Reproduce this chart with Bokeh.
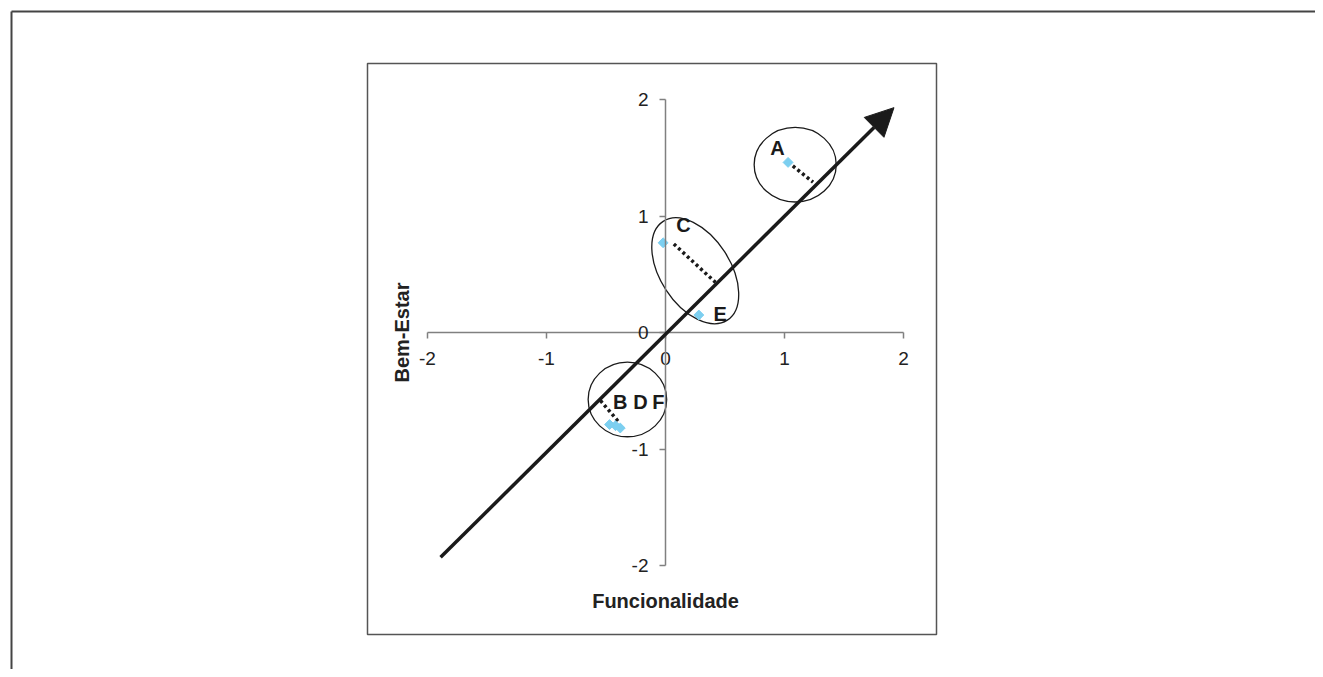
import math
from bokeh.plotting import figure
from bokeh.models import (Range1d, LinearAxis, FixedTicker, Arrow, NormalHead,
                          BoxAnnotation, ColumnDataSource, PrintfTickFormatter)
from bokeh.core.properties import value
from bokeh.embed import file_html
from bokeh.resources import INLINE

# ---------------- data ----------------
ticks = [-2, -1, 0, 1, 2]
names = ["A", "B", "C", "D", "E", "F"]
funcionalidade = [1.03, -0.47, -0.02, -0.42, 0.28, -0.38]
bem_estar = [1.46, -0.79, 0.77, -0.80, 0.15, -0.82]

# text labels of the groups
label_text = ["A", "C", "E", "B", "D", "F"]
label_x = [0.94, 0.15, 0.46, -0.38, -0.21, -0.06]
label_y = [1.58, 0.92, 0.16, -0.60, -0.60, -0.60]

# trend arrow (start, end)
trend_x = [-1.89, 1.92]
trend_y = [-1.93, 1.93]

# dotted distances to the trend line
resid_x0 = [1.07, 0.07, -0.40]
resid_y0 = [1.43, 0.76, -0.76]
resid_x1 = [1.24, 0.42, -0.55]
resid_y1 = [1.29, 0.43, -0.58]

# group ellipses
ell_x = [1.09, 0.25, -0.32]
ell_y = [1.44, 0.53, -0.575]
ell_w = [0.69, 0.99, 0.66]
ell_h = [0.64, 0.60, 0.64]
ell_angle_deg = [0, -57, 0]

# ---------------- layout (pixels) ----------------
W, H = 1315, 669
PAGE = 0
X0, UX = 665, 119.0     # page px of x=0, px per unit
Y0, UY = 332, 116.5     # page px of y=0, px per unit

def dx(px):
    return (px - X0) / UX

def dy(py):
    return (Y0 - py) / UY

p = figure(width=W, height=H, output_backend="svg", toolbar_location=None,
           x_range=Range1d(dx(PAGE), dx(PAGE + W)),
           y_range=Range1d(dy(PAGE + H), dy(PAGE)),
           x_axis_type=None, y_axis_type=None,
           min_border=0, min_border_left=0, min_border_right=0,
           min_border_top=0, min_border_bottom=0)
p.outline_line_color = None
p.grid.visible = False
p.background_fill_color = "white"
p.border_fill_color = "white"

FONT = "Liberation Sans"

# outer page frame (top and left edges)
p.segment(x0=[dx(11), dx(11)], y0=[dy(11), dy(11)],
          x1=[dx(PAGE + W + 5), dx(11)], y1=[dy(11), dy(PAGE + H + 5)],
          line_color="#444444", line_width=2)

# inner chart box
p.add_layout(BoxAnnotation(left=dx(367), right=dx(936), top=dy(63), bottom=dy(634),
                           fill_color=None, fill_alpha=0, line_color="#555555",
                           line_alpha=1, line_width=1.5))

# axes through the origin
for loc, dim in (("below", "x"), ("left", "y")):
    ax = LinearAxis(fixed_location=0, ticker=FixedTicker(ticks=ticks), bounds=(-2, 2),
                    formatter=PrintfTickFormatter(format="%d"))
    ax.axis_line_color = "#808080"
    ax.axis_line_width = 1.5
    ax.major_tick_line_color = "#808080"
    ax.major_tick_line_width = 1.5
    ax.major_tick_out = 6
    ax.major_tick_in = 0
    ax.minor_tick_out = 0
    ax.minor_tick_in = 0
    ax.major_label_text_font = FONT
    ax.major_label_text_font_size = "19px"
    ax.major_label_text_color = "#222222"
    ax.major_label_standoff = 13 if dim == "x" else 11
    p.add_layout(ax, loc)

# axis titles
p.text(x=[0], y=[dy(600)], text=["Funcionalidade"], text_font=value(FONT),
       text_font_style="bold", text_font_size="20px", text_color="#222222",
       text_align="center", text_baseline="middle")
p.text(x=[dx(401)], y=[0], text=["Bem-Estar"], text_font=value(FONT),
       text_font_style="bold", text_font_size="20px", text_color="#222222",
       text_align="center", text_baseline="middle", angle=math.pi / 2)

# ellipses
p.ellipse(x=ell_x, y=ell_y, width=ell_w, height=ell_h,
          angle=[math.radians(a) for a in ell_angle_deg],
          fill_color=None, line_color="#1a1a1a", line_width=1.3)

# trend arrow
p.add_layout(Arrow(x_start=trend_x[0], y_start=trend_y[0],
                   x_end=trend_x[1], y_end=trend_y[1],
                   line_width=3.5, line_color="#1a1a1a",
                   end=NormalHead(size=28, fill_color="#1a1a1a",
                                  line_color="#1a1a1a", line_width=1)))

# dotted distances
p.segment(x0=resid_x0, y0=resid_y0, x1=resid_x1, y1=resid_y1,
          line_color="#1a1a1a", line_width=3.5, line_dash="3 3")

# points
src = ColumnDataSource(dict(x=funcionalidade, y=bem_estar, name=names))
p.scatter(x="x", y="y", source=src, marker="square", angle=math.pi / 4,
          size=7, fill_color="#7ccff0", line_color="#7ccff0")

# group letters
p.text(x=label_x, y=label_y, text=label_text, text_font=value(FONT),
       text_font_style="bold", text_font_size="20px", text_color="#1a1a1a",
       text_align="center", text_baseline="middle")

open("out.html", "w").write(file_html(p, INLINE))
